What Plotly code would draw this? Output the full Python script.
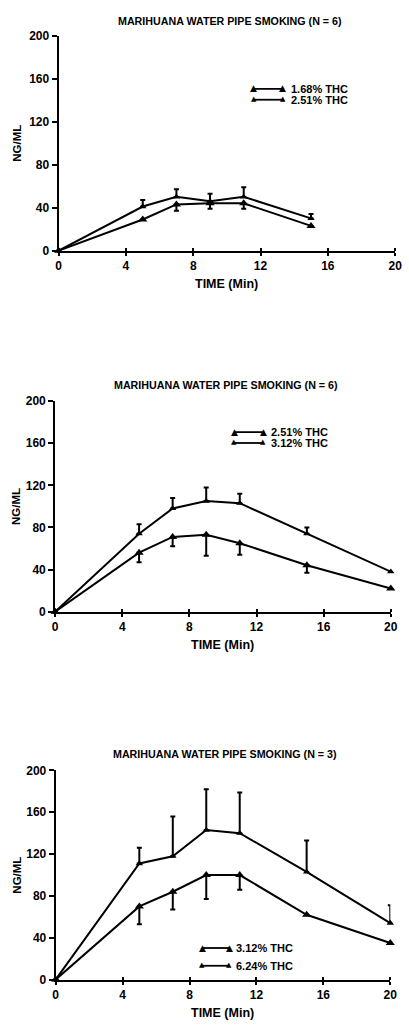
import plotly.graph_objects as go

# ---------------- data ----------------
p1_time = [0, 5, 7, 9, 11, 15]
p1_low = [0, 29, 43, 44, 44, 23]          # 1.68% THC
p1_low_err = [0, 0, 6, 5, 5, 0]
p1_up = [0, 41, 50, 46, 50, 30]           # 2.51% THC
p1_up_err = [0, 6, 7, 7, 9, 4]
p1_labels = ["1.68% THC", "2.51% THC"]
p1_title = "MARIHUANA WATER PIPE SMOKING (N = 6)"

p2_time = [0, 5, 7, 9, 11, 15, 20]
p2_low = [0, 56, 71, 73, 65, 44, 22]      # 2.51% THC
p2_low_err = [0, 9, 9, 20, 11, 7, 0]
p2_up = [0, 74, 98, 105, 103, 74, 38]     # 3.12% THC
p2_up_err = [0, 9, 10, 13, 9, 6, 0]
p2_labels = ["2.51% THC", "3.12% THC"]
p2_title = "MARIHUANA WATER PIPE SMOKING (N = 6)"

p3_time = [0, 5, 7, 9, 11, 15, 20]
p3_low = [0, 70, 84, 100, 100, 62, 35]    # 3.12% THC
p3_low_err = [0, 17, 17, 23, 14, 0, 0]
p3_up = [0, 111, 118, 143, 140, 103, 54]  # 6.24% THC
p3_up_err = [0, 15, 38, 39, 39, 30, 17]
p3_labels = ["3.12% THC", "6.24% THC"]
p3_title = "MARIHUANA WATER PIPE SMOKING (N = 3)"

x_ticks = [0, 4, 8, 12, 16, 20]
y_ticks = [0, 40, 80, 120, 160, 200]
x_title = "TIME (Min)"
y_title = "NG/ML"

W, H = 409, 1028
FONT = "Liberation Sans"

def px(x):
    return x / W

def py(y):
    return 1 - y / H

panels = [
    dict(t=p1_time, low=p1_low, lowe=p1_low_err, up=p1_up, upe=p1_up_err,
         labels=p1_labels, title=p1_title,
         x=(57, 402), y=(29, 247), title_xy=(233, 14.5),
         leg=(257, 287, 293, 83, 94)),
    dict(t=p2_time, low=p2_low, lowe=p2_low_err, up=p2_up, upe=p2_up_err,
         labels=p2_labels, title=p2_title,
         x=(53.5, 397.5), y=(399.5, 613), title_xy=(229, 383),
         leg=(237, 267, 273, 431, 442)),
    dict(t=p3_time, low=p3_low, lowe=p3_low_err, up=p3_up, upe=p3_up_err,
         labels=p3_labels, title=p3_title,
         x=(54, 397), y=(774, 986), title_xy=(228, 757),
         leg=(204, 232, 237, 954, 972)),
]

fig = go.Figure()
annotations = []
shapes = []

for i, p in enumerate(panels):
    n = "" if i == 0 else str(i + 1)
    xa, ya = "x" + n, "y" + n
    # lower series (larger triangles, error bars downward)
    fig.add_trace(go.Scatter(
        x=p["t"], y=p["low"], xaxis=xa, yaxis=ya, mode="lines+markers",
        name=p["labels"][0], showlegend=False, cliponaxis=False,
        line=dict(color="black", width=2),
        marker=dict(symbol="triangle-up", size=8, color="black"),
        error_y=dict(type="data", symmetric=False, array=[0] * len(p["t"]),
                     arrayminus=p["lowe"], color="black", thickness=2, width=2.5),
    ))
    # upper series (smaller triangles, error bars upward)
    fig.add_trace(go.Scatter(
        x=p["t"], y=p["up"], xaxis=xa, yaxis=ya, mode="lines+markers",
        name=p["labels"][1], showlegend=False, cliponaxis=False,
        line=dict(color="black", width=2),
        marker=dict(symbol="triangle-up", size=6.5, color="black"),
        error_y=dict(type="data", symmetric=False, array=p["upe"],
                     arrayminus=[0] * len(p["t"]), color="black", thickness=2, width=2.5),
    ))

    axis_common = dict(showline=True, linecolor="black", linewidth=2,
                       showgrid=False, zeroline=False, ticks="outside",
                       tickcolor="black", tickwidth=2, fixedrange=True,
                       tickfont=dict(family=FONT, size=12, color="black", weight="bold"))
    fig.layout["xaxis" + n] = dict(
        axis_common, domain=[px(p["x"][0]), px(p["x"][1])], anchor=ya,
        range=[0, 20], tickvals=x_ticks, ticklen=3,
        minor=dict(tickvals=x_ticks, ticks="inside", ticklen=3,
                   tickcolor="black", tickwidth=2, showgrid=False))
    fig.layout["yaxis" + n] = dict(
        axis_common, domain=[py(p["y"][1]), py(p["y"][0])], anchor=xa,
        range=[0, 200], tickvals=y_ticks, ticklen=5)

    # title
    annotations.append(dict(
        text=p["title"], x=px(p["title_xy"][0]), y=py(p["title_xy"][1]),
        xref="paper", yref="paper", showarrow=False, xanchor="center", yanchor="middle",
        font=dict(family=FONT, size=10.7, color="black", weight="bold")))
    # axis titles
    annotations.append(dict(
        text=x_title, x=px((p["x"][0] + p["x"][1]) / 2), y=py(p["y"][1] + 34),
        xref="paper", yref="paper", showarrow=False, xanchor="center", yanchor="middle",
        font=dict(family=FONT, size=12.5, color="black", weight="bold")))
    annotations.append(dict(
        text=y_title, x=px(14), y=py((p["y"][0] + p["y"][1]) / 2), textangle=-90,
        xref="paper", yref="paper", showarrow=False, xanchor="center", yanchor="middle",
        font=dict(family=FONT, size=11.5, color="black", weight="bold")))

    # legend (manual)
    lx0, lx1, tx, ly1, ly2 = p["leg"]
    for ly, lab, tri in ((ly1, p["labels"][0], 9), (ly2, p["labels"][1], 7)):
        shapes.append(dict(type="line", xref="paper", yref="paper",
                           x0=px(lx0), x1=px(lx1), y0=py(ly), y1=py(ly),
                           line=dict(color="black", width=1.8)))
        for ex in (lx0, lx1):
            annotations.append(dict(
                text="▲", x=px(ex), y=py(ly - 0.5), xref="paper", yref="paper",
                showarrow=False, xanchor="center", yanchor="middle",
                font=dict(family="DejaVu Sans", size=tri, color="black")))
        annotations.append(dict(
            text=lab, x=px(tx), y=py(ly), xref="paper", yref="paper",
            showarrow=False, xanchor="left", yanchor="middle",
            font=dict(family=FONT, size=11, color="black", weight="bold")))

fig.update_layout(
    width=W, height=H, margin=dict(l=0, r=0, t=0, b=0),
    paper_bgcolor="white", plot_bgcolor="white",
    annotations=annotations, shapes=shapes, showlegend=False,
)

fig.write_html("out.html", config={"displayModeBar": False})
